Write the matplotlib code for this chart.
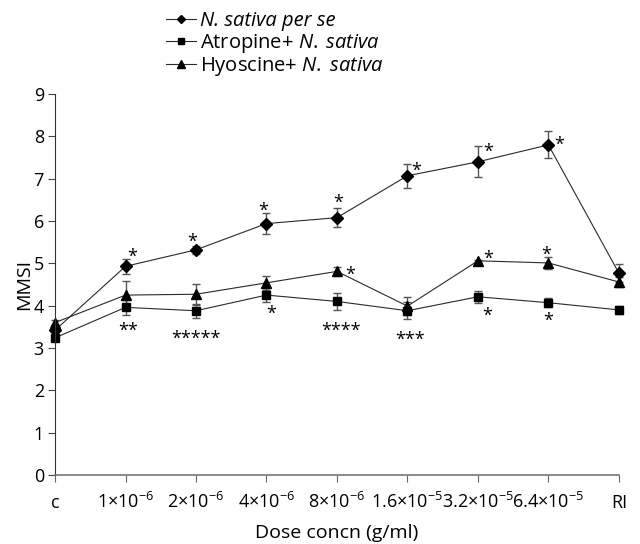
import numpy as np
import matplotlib.pyplot as plt
from matplotlib.lines import Line2D

plt.rcParams['font.family'] = 'Open Sans'
plt.rcParams['mathtext.fontset'] = 'custom'
plt.rcParams['mathtext.rm'] = 'Open Sans'
plt.rcParams['mathtext.it'] = 'Open Sans:italic'
plt.rcParams['mathtext.default'] = 'regular'

# categories on the x axis
doses = ['c', r'1×10$^{-6}$', r'2×10$^{-6}$', r'4×10$^{-6}$', r'8×10$^{-6}$',
         r'1.6×10$^{-5}$', r'3.2×10$^{-5}$', r'6.4×10$^{-5}$', 'RI']

# series values and their error bars
sativa = [3.42, 4.93, 5.32, 5.94, 6.08, 7.07, 7.40, 7.80, 4.77]
sativa_err = [0.05, 0.17, 0.10, 0.25, 0.23, 0.29, 0.37, 0.32, 0.22]
atropine = [3.24, 3.96, 3.88, 4.25, 4.10, 3.88, 4.21, 4.07, 3.90]
atropine_err = [0.08, 0.17, 0.16, 0.16, 0.21, 0.20, 0.14, 0.11, 0.10]
hyoscine = [3.60, 4.25, 4.27, 4.54, 4.81, 3.99, 5.06, 5.01, 4.56]
hyoscine_err = [0.06, 0.33, 0.25, 0.16, 0.10, 0.21, 0.02, 0.15, 0.12]

# significance marks per dose and where they sit (x offset, y value)
sativa_marks = ['', '*', '*', '*', '*', '*', '*', '*', '']
sativa_pos = [None, (0.09, 5.28), (-0.05, 5.65), (-0.05, 6.37), (0.02, 6.57),
              (0.13, 7.31), (0.14, 7.76), (0.15, 7.92), None]
hyoscine_marks = ['', '', '', '', '*', '', '*', '*', '']
hyoscine_pos = [None, None, None, None, (0.19, 4.87), None, (0.14, 5.24), (-0.03, 5.32), None]
atropine_marks = ['', '**', '*****', '*', '****', '***', '*', '*', '']
atropine_pos = [None, (0.04, 3.53), (0.0, 3.35), (0.06, 3.94), (0.05, 3.54),
                (0.03, 3.33), (0.13, 3.90), (-0.01, 3.78), None]

fig = plt.figure(figsize=(6.4, 5.44), dpi=100)
ax = fig.add_axes([0.086, 0.127, 0.881, 0.700])

x = np.arange(len(doses))
line_col = '#2a2a2a'
err_col = '#555555'

kw = dict(color=line_col, lw=0.8, ecolor=err_col, elinewidth=1.0, capsize=3,
          capthick=1.0, markerfacecolor='black', markeredgecolor='black')
ax.errorbar(x, sativa, yerr=sativa_err, marker='D', ms=6, **kw)
ax.errorbar(x, atropine, yerr=atropine_err, marker='s', ms=6, **kw)
ax.errorbar(x, hyoscine, yerr=hyoscine_err, marker='^', ms=7.5, **kw)

fs = 13
shift = 0.13  # the star glyph sits high in its text box
for marks, pos in [(sativa_marks, sativa_pos), (hyoscine_marks, hyoscine_pos),
                   (atropine_marks, atropine_pos)]:
    for i, m in enumerate(marks):
        if m:
            dx, yv = pos[i]
            ax.text(i + dx, yv - shift, m, ha='center', va='center', fontsize=fs)

ax.set_xlim(0, len(doses) - 1)
ax.set_ylim(0, 9)
ax.set_yticks(range(10))
ax.set_xticks(x)
ax.set_xticklabels(doses, fontsize=13)
for lab in ax.get_xticklabels():
    lab.set_verticalalignment('baseline')
ax.tick_params(axis='y', labelsize=13, length=5, pad=3, color='#444444')
ax.tick_params(axis='x', length=5, pad=18.5, color='#666666')
ax.spines['top'].set_visible(False)
ax.spines['right'].set_visible(False)
ax.spines['left'].set_color('#333333')
ax.spines['bottom'].set_color('#777777')
ax.spines['bottom'].set_linewidth(1.2)
ax.set_ylabel('MMSI', fontsize=14, labelpad=0)
ax.set_xlabel('Dose concn (g/ml)', fontsize=14, labelpad=9)
for art in ax.get_children():
    try:
        art.set_clip_on(False)
    except Exception:
        pass

handles = [Line2D([], [], color=line_col, lw=0.8, marker=m, ms=s, markerfacecolor='black',
                  markeredgecolor='black') for m, s in [('D', 4), ('s', 5), ('^', 6)]]
labels = ['N. sativa per se', r'Atropine+ $\mathit{N.\;sativa}$', r'Hyoscine+ $\mathit{N.\;sativa}$']
leg = fig.legend(handles=handles, labels=labels, loc='upper left', bbox_to_anchor=(0.259, 0.979),
                 frameon=False, fontsize=14.5, handlelength=1.5, handletextpad=0.2,
                 labelspacing=0.02, borderaxespad=0, borderpad=0)
leg.get_texts()[0].set_fontstyle('italic')

fig.savefig('out.png', dpi=100)
